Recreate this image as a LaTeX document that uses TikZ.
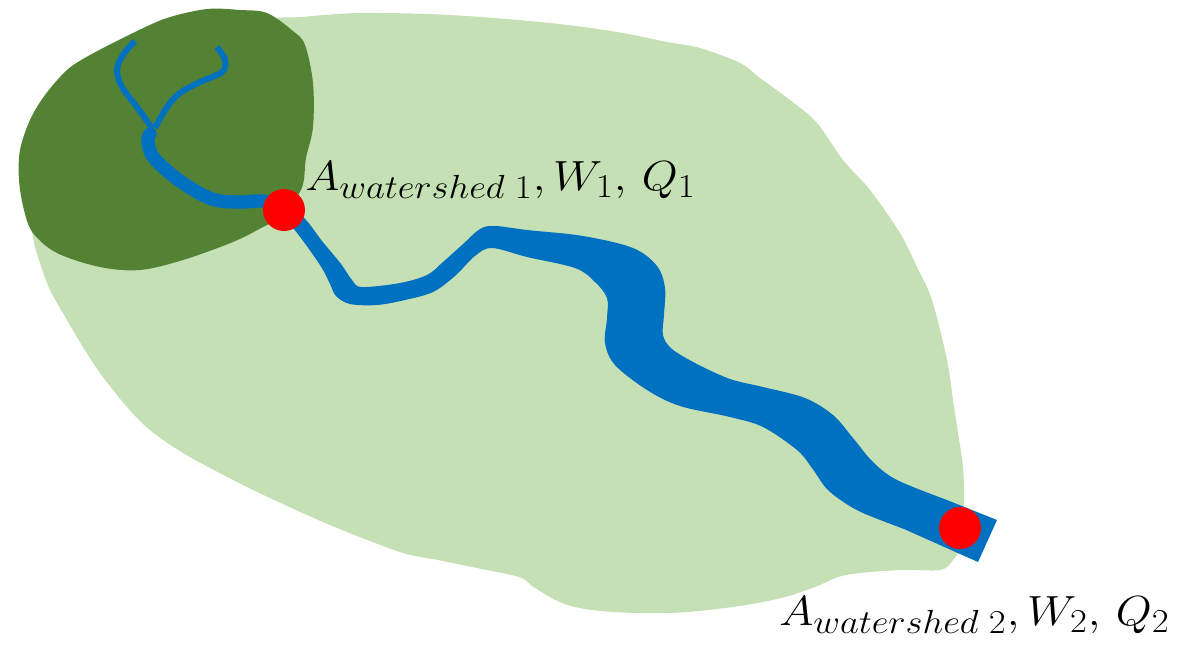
\RequirePackage{fix-cm}
\documentclass[tikz,border=0pt]{standalone}
\usepackage{graphicx}
\DeclareMathSizes{24}{24}{19}{14}

\definecolor{basinlight}{RGB}{197,224,180}
\definecolor{basindark}{RGB}{84,130,53}
\definecolor{river}{RGB}{0,112,192}
\definecolor{outletred}{RGB}{255,0,0}

\begin{document}
\begin{tikzpicture}[x=0.02cm,y=-0.02cm,
  basin/.style={fill=basinlight},
  subbasin/.style={fill=basindark},
  channel/.style={draw=river, line width=7.6pt, line cap=round, line join=round},
  creek/.style={draw=river, line width=3.4pt, line cap=butt, line join=round},
  stream/.style={fill=river},
  outlet/.style={circle, fill=outletred, minimum size=0.84cm, inner sep=0pt},
  eqlabel/.style={anchor=base west, inner sep=0pt, font=\fontsize{24}{28}\selectfont}]

\useasboundingbox (0,0) rectangle (1201,650);

% whole watershed
\fill[basin] plot[smooth cycle, tension=0.55] coordinates {
  (250,20) (300,17) (360,13) (450,15) (550,23) (617,32) (667,42) (700,48)
  (740,63) (760,78) (790,100) (817,123) (843,160) (870,190) (900,233)
  (917,267) (932,300) (947,360) (953,400) (958,433) (963,467) (964,500)
  (962,543) (953,560) (940,570) (900,570) (846,575) (815,587) (785,597)
  (746,605) (688,612) (638,613) (592,610) (562,603) (535,588) (519,577)
  (477,568) (438,560) (400,552) (330,525) (270,498) (233,480) (183,453)
  (150,430) (127,407) (100,373) (83,347) (67,320) (50,290) (40,263)
  (33,237) (30,200) (60,100) (150,40)};

% upstream sub-watershed
\fill[subbasin] plot[smooth cycle, tension=0.55] coordinates {
  (207,9) (240,10) (267,13) (293,31) (305,45) (313,83) (313,127)
  (306,158) (301,190) (276,219) (263,227) (233,242) (183,260) (140,270)
  (100,267) (57,253) (33,233) (24,210) (19,180) (20,150) (30,120)
  (45,95) (67,70) (90,55) (133,33) (167,18)};

% headwater tributaries
\draw[creek] plot[smooth, tension=0.6] coordinates {
  (135,41) (123,55) (117,70) (122,87) (137,107) (152,128)};
\draw[creek] plot[smooth, tension=0.6] coordinates {
  (217,47) (225,60) (222,72) (200,82) (180,93) (167,107) (155,128)};

% upper reach down to the first outlet
\draw[channel] plot[smooth, tension=0.6] coordinates {
  (150,134) (148,142) (154,158) (180,181) (212,199) (240,202) (263,201) (284,206)};

% main river below the first outlet
\fill[stream] plot[smooth, tension=0.55] coordinates {
  (280,205) (303,217) (322,241) (341,264) (352,280) (362,287) (400,283)
  (427,275) (443,262) (462,245) (480,229) (495,226) (527,230) (583,236)
  (633,248) (657,266) (665,288) (664,315) (663,335) (672,349) (697,364)
  (730,379) (763,387) (805,398) (833,415) (853,438) (873,462) (897,480)
  (947,500)}
  -- (997,520) -- (978,562) -- (904,529)
  -- plot[smooth, tension=0.55] coordinates {
  (904,529) (863,513) (842,501) (826,488) (812,468) (797,450) (763,427)
  (730,417) (680,406) (647,390) (615,365) (605,343) (607,318) (607,298)
  (595,282) (575,268) (527,257) (492,248) (475,256) (455,276) (433,292)
  (405,300) (377,305) (350,304) (336,296) (330,284) (320,265) (293,228)
  (272,210)} -- cycle;

% outlets
\node[outlet] (out1) at (284,210) {};
\node[outlet] (out2) at (960,528) {};

% outlet labels
\node[eqlabel] (lab1) at (305,190) {\scalebox{1.1}[1]{$A_{watershed\;1}, W_1,\, Q_1$}};
\node[eqlabel] (lab2) at (779,625) {\scalebox{1.1}[1]{$A_{watershed\;2}, W_2,\, Q_2$}};

\end{tikzpicture}
\end{document}
